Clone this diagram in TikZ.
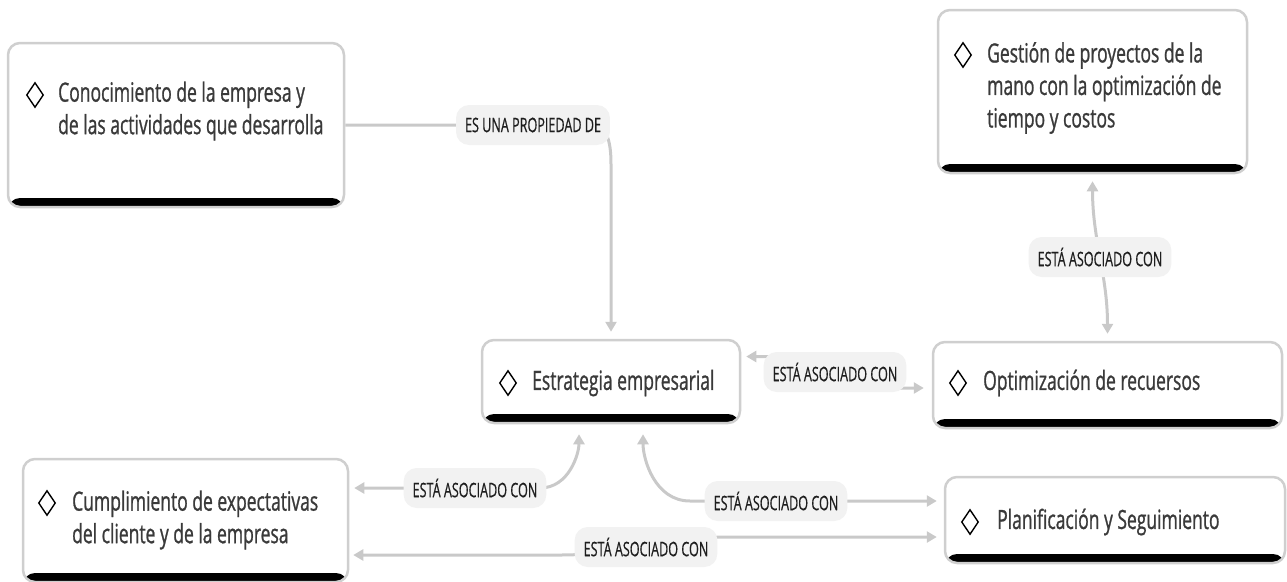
\documentclass[tikz,border=0pt]{standalone}
\usepackage{fontspec}
\setmainfont{Open Sans}[FakeStretch=0.66, FakeBold=0.9]
\newfontfamily\labfont{Open Sans}[FakeStretch=0.63, FakeBold=0.5]
\usetikzlibrary{shapes.geometric,arrows.meta}
\definecolor{conncol}{HTML}{C9C9C9}
\definecolor{borcol}{HTML}{CFCFCF}
\definecolor{labfill}{HTML}{F2F2F2}
\definecolor{boxtext}{HTML}{3A3A3A}
\definecolor{labtext}{HTML}{1E1E1E}
\tikzset{
  box/.style={draw=borcol, line width=2.5pt, fill=white, rounded corners=12pt, inner sep=0pt,
    path picture={\fill[black] ([yshift=9pt]path picture bounding box.south west) rectangle (path picture bounding box.south east);}},
  boxtxt/.style={anchor=west, inner sep=0pt, align=left, text=boxtext, font=\fontsize{26.5}{32.5}\selectfont},
  dia/.style={draw=black, line width=1.4pt, diamond, inner sep=0pt, minimum width=17pt, minimum height=25pt, aspect=0.68},
  conn/.style={draw=conncol, line width=3pt, -{Triangle[length=10pt,width=11pt]}},
  conn2/.style={draw=conncol, line width=3pt, {Triangle[length=10pt,width=11pt]}-{Triangle[length=10pt,width=11pt]}},
  lab/.style={fill=labfill, rounded corners=13pt, text=labtext, font=\labfont\fontsize{20}{22}\selectfont, inner xsep=9pt, minimum height=40pt, inner ysep=0pt}
}
\begin{document}
\begin{tikzpicture}[x=1pt,y=-1pt]
\useasboundingbox (0,0) rectangle (1287,581);
% boxes
\node[box, minimum width=336pt, minimum height=164pt] (con) at (176,125) {};
\node[box, minimum width=309pt, minimum height=163pt] (ges) at (1092.5,91.5) {};
\node[box, minimum width=258pt, minimum height=83pt] (est) at (611,381.5) {};
\node[box, minimum width=349pt, minimum height=86pt] (opt) at (1107.5,385) {};
\node[box, minimum width=325pt, minimum height=123pt] (cum) at (185.5,520.5) {};
\node[box, minimum width=340pt, minimum height=86pt] (pla) at (1115,520) {};
% diamonds and texts
\node[dia] (dcon) at (35,95) {};
\node[boxtxt] (tcon) at (58,111) {Conocimiento de la empresa y\\de las actividades que desarrolla};
\node[dia] (dges) at (963,55) {};
\node[boxtxt] (tges) at (987,88) {Gestión de proyectos de la\\mano con la optimización de\\tiempo y costos};
\node[dia] (dest) at (508,383) {};
\node[boxtxt] (test) at (532,383) {Estrategia empresarial};
\node[dia] (dopt) at (958,383) {};
\node[boxtxt] (topt) at (983,383) {Optimización de recuersos};
\node[dia] (dcum) at (47,503) {};
\node[boxtxt] (tcum) at (72,520) {Cumplimiento de expectativas\\del cliente y de la empresa};
\node[dia] (dpla) at (970,522) {};
\node[boxtxt] (tpla) at (997,522) {Planificación y Seguimiento};
% connectors
\draw[conn, shorten >=7pt] (con.east) -- (592,125) to[out=0,in=90] (est.north |- 0,165) -- (est.north);
\draw[conn2, shorten <=7pt, shorten >=7pt] (ges.south) to[out=-90,in=90] (opt.north);
\draw[conn2, shorten <=5pt, shorten >=8pt] ([yshift=25pt]est.east) -- (800,356.5) to[out=0,in=180] (870,388) -- ([yshift=-3pt]opt.west);
\draw[conn2, shorten <=10pt, shorten >=5pt] ([xshift=-32pt]est.south) to[out=-90,in=0] (540,488) -- ([yshift=32.5pt]cum.east);
\draw[conn2, shorten <=10pt, shorten >=7pt] ([xshift=32pt]est.south) to[out=-90,in=180] (690,501) -- ([yshift=19pt]pla.west);
\draw[conn2, shorten <=4pt, shorten >=7pt] ([yshift=-34.5pt]cum.east) -- (560,555) to[out=0,in=180] (730,537) -- ([yshift=-17pt]pla.west);
% labels
\node[lab] (l1) at (533,125) {ES UNA PROPIEDAD DE};
\node[lab] (l2) at (1100,257) {ESTÁ ASOCIADO CON};
\node[lab] (l3) at (835,372) {ESTÁ ASOCIADO CON};
\node[lab] (l4) at (475,488) {ESTÁ ASOCIADO CON};
\node[lab] (l5) at (776,501) {ESTÁ ASOCIADO CON};
\node[lab] (l6) at (646,547) {ESTÁ ASOCIADO CON};
\end{tikzpicture}
\end{document}
